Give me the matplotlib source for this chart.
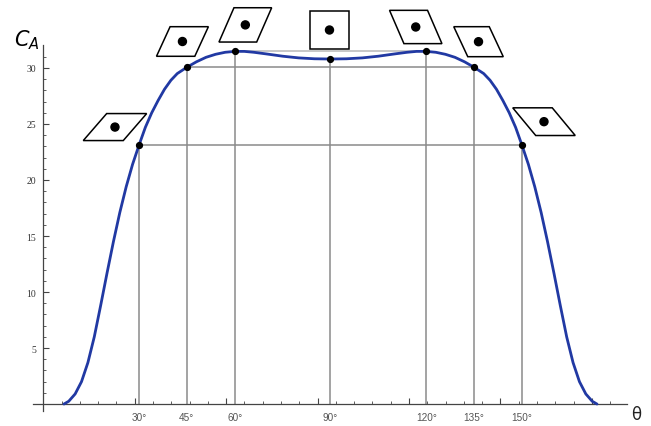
import numpy as np
import matplotlib
matplotlib.use("Agg")
import matplotlib.pyplot as plt
import matplotlib.transforms as mtransforms
from matplotlib.patches import Polygon, Circle


# curve C_A(theta), theta in degrees
THETA = [6.5, 8, 10, 12, 14, 16, 18, 20, 22, 24, 26, 28, 30, 32, 34, 36, 38, 40,
         42, 45, 48, 51, 54, 57, 60, 63, 66, 70, 75, 80, 85, 90,
         95, 100, 105, 110, 114, 117, 120, 123, 126, 129, 132, 135, 138, 140, 142,
         144, 146, 148, 150, 152, 154, 156, 158, 160, 162, 164, 166, 168, 170, 172,
         173.5]
CA = [0, 0.25, 0.9, 2.0, 3.7, 6.0, 8.8, 11.7, 14.5, 17.1, 19.4, 21.4, 23.1, 24.7,
      26.0, 27.1, 28.1, 28.9, 29.5, 30.06, 30.55, 30.95, 31.22, 31.4, 31.48, 31.48,
      31.4, 31.25, 31.05, 30.9, 30.82, 30.8,
      30.82, 30.9, 31.05, 31.25, 31.4, 31.48, 31.48, 31.4, 31.22, 30.95, 30.55,
      30.06, 29.5, 28.9, 28.1, 27.1, 26.0, 24.7, 23.1, 21.4, 19.4, 17.1, 14.5, 11.7,
      8.8, 6.0, 3.7, 2.0, 0.9, 0.25, 0]

# marked angles and their values
POINT_THETA = [30, 45, 60, 90, 120, 135, 150]
POINT_C = [23.1, 30.06, 31.48, 30.8, 31.48, 30.06, 23.1]
POINT_LABELS = ["30°", "45°", "60°", "90°", "120°", "135°", "150°"]

# parallelogram sketches next to each point (pixel offsets / sizes)
SHAPE_DX = [-24, -4.4, 10.6, -1, -10.5, 4.4, 22]
SHAPE_DY = [18.2, 25.8, 26.5, 29, 24.4, 25.6, 23.6]
SHAPE_W = [40, 38.3, 37.7, 39, 38, 35.5, 39.5]
SHAPE_H = [27, 29.6, 34.3, 38.3, 33.3, 30, 27.7]
SHAPE_SHEAR = [23.4, 13.6, 15, 0, -14.4, -14, -23]

DPI = 100
W, H = 651, 427


def main():
    fig = plt.figure(figsize=(W / DPI, H / DPI), dpi=DPI)
    ax = fig.add_axes([33 / W, (H - 412) / H, (627 - 33) / W, (412 - 46) / H])
    ax.set_xlim(-3.2, 182.9)
    ax.set_ylim(-0.62, 32.05)

    for s in ["top", "right"]:
        ax.spines[s].set_visible(False)
    ax.spines["left"].set_position(("data", 0))
    ax.spines["bottom"].set_position(("data", 0))
    for s in ["left", "bottom"]:
        ax.spines[s].set_color("#444444")
        ax.spines[s].set_linewidth(0.9)

    # x ticks every 0.1 rad, longer every 0.5 rad, no numbers
    ax.set_xticks(np.degrees(np.arange(0.5, 3.2, 0.5)))
    ax.set_xticks(np.degrees(np.arange(0.1, 3.2, 0.1)), minor=True)
    ax.set_xticklabels([])
    ax.set_yticks([5, 10, 15, 20, 25, 30])
    ax.set_yticks(np.arange(1, 32), minor=True)
    ax.tick_params(axis="both", which="both", direction="in", color="#444444")
    ax.tick_params(axis="both", which="major", length=4, width=0.8)
    ax.tick_params(axis="both", which="minor", length=2.2, width=0.6)
    ax.tick_params(axis="y", which="major", labelsize=7, pad=5, labelcolor="#333333")
    for lab in ax.get_yticklabels():
        lab.set_family("Liberation Serif")

    # guide lines
    for t, c in zip(POINT_THETA, POINT_C):
        ax.plot([t, t], [0, c], color="#8a8a8a", lw=1.1, zorder=1)
    for i in range(3):
        col = "#b8b8b8" if i == 2 else "#8a8a8a"
        ax.plot([POINT_THETA[i], POINT_THETA[-1 - i]], [POINT_C[i], POINT_C[i]],
                color=col, lw=1.1, zorder=1)

    ax.plot(THETA, CA, color="#2139a3", lw=2.0, solid_capstyle="round",
            solid_joinstyle="round", zorder=3)
    ax.plot(POINT_THETA, POINT_C, "o", color="black", ms=4.2, zorder=4)

    for t, lab in zip(POINT_THETA, POINT_LABELS):
        ax.annotate(lab, xy=(t, 0), xytext=(0, -9.5), textcoords="offset points",
                    ha="center", va="center", fontsize=7.2, color="#555555",
                    family="Liberation Sans", annotation_clip=False)

    # sketches
    for i, (t, c) in enumerate(zip(POINT_THETA, POINT_C)):
        trans = fig.dpi_scale_trans + mtransforms.ScaledTranslation(t, c, ax.transData)
        cx, cy = SHAPE_DX[i], SHAPE_DY[i]
        w, h, sh = SHAPE_W[i], SHAPE_H[i], SHAPE_SHEAR[i]
        verts = np.array([
            [cx - w / 2 - sh / 2, cy - h / 2],
            [cx + w / 2 - sh / 2, cy - h / 2],
            [cx + w / 2 + sh / 2, cy + h / 2],
            [cx - w / 2 + sh / 2, cy + h / 2],
        ]) / DPI
        ax.add_patch(Polygon(verts, closed=True, facecolor="white", edgecolor="black",
                             lw=1.1, transform=trans, clip_on=False, zorder=5))
        ax.add_patch(Circle((cx / DPI, cy / DPI), 4 / DPI, color="black",
                            transform=trans, clip_on=False, zorder=6))

    fig.text(14 / W, 1 - 40 / H, "$C_A$", fontsize=15, ha="left", va="center")
    fig.text(636 / W, 1 - 415 / H, "θ", fontsize=12, ha="center", va="center",
             color="#222222")

    fig.savefig("out.png", dpi=DPI)
    plt.close(fig)


if __name__ == "__main__":
    main()
